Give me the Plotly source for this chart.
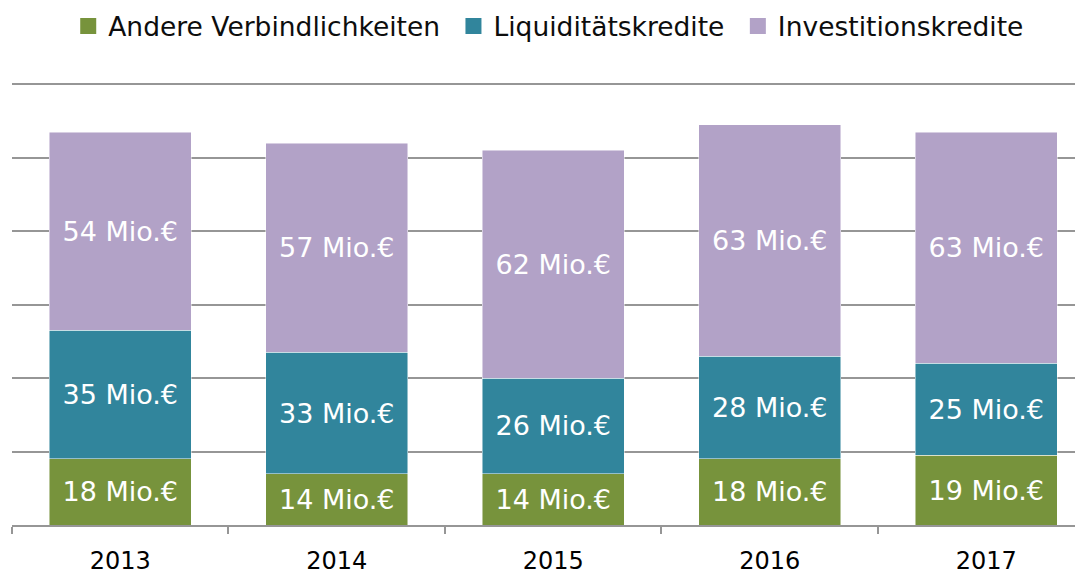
import plotly.graph_objects as go

years = ["2013", "2014", "2015", "2016", "2017"]
andere = [18, 14, 14, 18, 19]
liquiditaet = [35, 33, 26, 28, 25]
investition = [54, 57, 62, 63, 63]

series = [
    ("Andere Verbindlichkeiten", andere, "#77933C"),
    ("Liquiditätskredite", liquiditaet, "#31859C"),
    ("Investitionskredite", investition, "#B2A2C7"),
]

FONT = "DejaVu Sans"
fig = go.Figure()
for name, vals, color in series:
    fig.add_trace(go.Bar(
        x=years, y=vals, name=name, showlegend=False,
        marker=dict(color=color, line=dict(color="rgba(255,255,255,0.6)", width=0.8)),
        text=[f"{v} Mio.€" for v in vals],
        textposition="inside", insidetextanchor="middle", textangle=0,
        constraintext="none",
        textfont=dict(color="white", size=27, family=FONT),
        hoverinfo="skip",
    ))
# legend entries with larger square symbols (non-breaking space widens the gap)
for i, (name, vals, color) in enumerate(series):
    pad = "\u00a0" if i < len(series) - 1 else ""
    fig.add_trace(go.Scatter(
        x=[None], y=[None], name=name + pad, mode="markers",
        marker=dict(symbol="square", size=16, color=color),
        showlegend=True, hoverinfo="skip",
    ))

fig.update_layout(
    barmode="stack",
    bargap=0.344,
    width=1075, height=568,
    margin=dict(l=4, r=0, t=69, b=51, autoexpand=False),
    paper_bgcolor="white", plot_bgcolor="white",
    font=dict(family=FONT, size=24, color="black"),
    showlegend=True,
    legend=dict(orientation="h", x=0.503, xanchor="center", y=0.968, yanchor="middle",
                yref="container", xref="container",
                font=dict(size=26.5, family=FONT, color="#0d0d0d"), itemwidth=30,
                traceorder="normal"),
    xaxis=dict(range=[-0.5, 4.447], showline=True, linecolor="#969696", linewidth=2,
               ticks="outside", tickson="boundaries", ticklen=7, tickcolor="#969696",
               tickwidth=2, ticklabelstandoff=13,
               tickfont=dict(size=24, color="black", family=FONT), showgrid=False,
               automargin=False),
    yaxis=dict(range=[0, 122], dtick=20, showgrid=True, gridcolor="#969696", gridwidth=2,
               showticklabels=False, zeroline=False, ticks="", automargin=False),
)

fig.write_html("out.html")
